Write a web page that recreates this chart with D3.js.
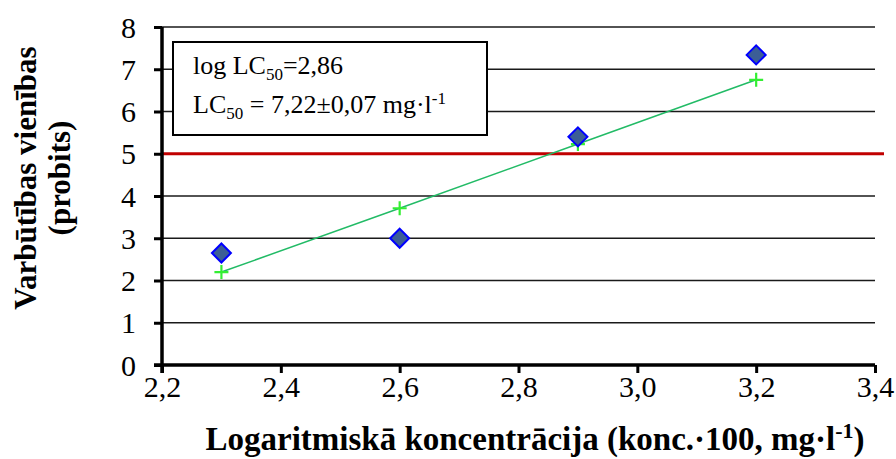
<!DOCTYPE html>
<html>
<head>
<meta charset="utf-8">
<script src="https://cdn.jsdelivr.net/npm/d3@7"></script>
<style>
  html, body { margin: 0; padding: 0; background: #fff; }
  svg { display: block; font-family: "Liberation Serif", "Times New Roman", serif; }
</style>
</head>
<body>
<svg id="chart" width="896" height="459"></svg>
<script>
// Log concentration values (x) and observed / fitted probits
const logConc = [2.3, 2.6, 2.9, 3.2];
const observedProbit = [2.65, 3.0, 5.4, 7.34];
const fittedProbit = [2.2, 3.71, 5.23, 6.75];
const probitLevel50 = 5;

const xTicks = [2.2, 2.4, 2.6, 2.8, 3.0, 3.2, 3.4];
const xTickLabels = ["2,2", "2,4", "2,6", "2,8", "3,0", "3,2", "3,4"];
const yTicks = [0, 1, 2, 3, 4, 5, 6, 7, 8];

const svg = d3.select("#chart");
const plotLeft = 162, plotRight = 875, plotTop = 27, plotBottom = 365;
const serif = "Liberation Serif, Times New Roman, serif";

const x = d3.scaleLinear().domain([2.2, 3.4]).range([plotLeft, plotRight]);
const y = d3.scaleLinear().domain([0, 8]).range([plotBottom, plotTop]);

// horizontal gridlines
svg.append("g")
  .selectAll("line")
  .data(yTicks.filter(v => v !== 0 && v !== probitLevel50))
  .join("line")
  .attr("x1", plotLeft).attr("x2", plotRight)
  .attr("y1", d => y(d)).attr("y2", d => y(d))
  .attr("stroke", "#1a1a1a").attr("stroke-width", 1.5);

// 50% response level
svg.append("line")
  .attr("x1", plotLeft).attr("x2", 884)
  .attr("y1", y(probitLevel50)).attr("y2", y(probitLevel50))
  .attr("stroke", "#c00000").attr("stroke-width", 3);

// y axis
const yAxis = svg.append("g")
  .attr("transform", `translate(${plotLeft},0)`)
  .call(d3.axisLeft(y).tickValues(yTicks).tickSize(8).tickPadding(18).tickFormat(d3.format("d")));
yAxis.select(".domain").attr("stroke", "#000").attr("stroke-width", 3.5).attr("d", `M0,${plotTop}V${plotBottom + 8}`);
yAxis.selectAll(".tick line").attr("stroke", "#000").attr("stroke-width", 3);
yAxis.selectAll(".tick text")
  .attr("font-family", serif)
  .attr("font-size", 30).attr("fill", "#000").attr("dy", "0.34em");

// x axis
const xAxis = svg.append("g")
  .attr("transform", `translate(0,${plotBottom})`)
  .call(d3.axisBottom(x).tickValues(xTicks).tickSize(8).tickPadding(3)
    .tickFormat((d, i) => xTickLabels[i]));
xAxis.select(".domain").attr("stroke", "#000").attr("stroke-width", 3.5).attr("d", `M${plotLeft - 8},0H${plotRight}`);
xAxis.selectAll(".tick line").attr("stroke", "#000").attr("stroke-width", 3);
xAxis.selectAll(".tick text")
  .attr("font-family", serif)
  .attr("font-size", 30).attr("fill", "#000");

// fitted line
svg.append("path")
  .datum(logConc.map((v, i) => [v, fittedProbit[i]]))
  .attr("fill", "none")
  .attr("stroke", "#22bb66").attr("stroke-width", 1.5)
  .attr("d", d3.line().x(d => x(d[0])).y(d => y(d[1])));

// fitted points (crosses)
svg.append("g")
  .selectAll("path")
  .data(logConc.map((v, i) => [v, fittedProbit[i]]))
  .join("path")
  .attr("transform", d => `translate(${x(d[0])},${y(d[1])})`)
  .attr("d", "M-7,0H7M0,-7V7")
  .attr("stroke", "#33ee33").attr("stroke-width", 2.2).attr("fill", "none");

// observed points (diamonds)
svg.append("g")
  .selectAll("path")
  .data(logConc.map((v, i) => [v, observedProbit[i]]))
  .join("path")
  .attr("transform", d => `translate(${x(d[0])},${y(d[1])})`)
  .attr("d", "M0,-9.5L9.5,0L0,9.5L-9.5,0Z")
  .attr("fill", "#3c5e96").attr("stroke", "#0000ff").attr("stroke-width", 2);

// result box
svg.append("rect")
  .attr("x", 173).attr("y", 42).attr("width", 314).attr("height", 93)
  .attr("fill", "#fff").attr("stroke", "#000").attr("stroke-width", 2);

const t1 = svg.append("text").attr("x", 193).attr("y", 74).attr("font-size", 26);
t1.append("tspan").text("log LC");
t1.append("tspan").attr("font-size", 17).attr("dy", 6).text("50");
t1.append("tspan").attr("dy", -6).text("=2,86");

const t2 = svg.append("text").attr("x", 193).attr("y", 113).attr("font-size", 26);
t2.append("tspan").text("LC");
t2.append("tspan").attr("font-size", 17).attr("dy", 6).text("50");
t2.append("tspan").attr("dy", -6).text(" = 7,22±0,07 mg·l");
t2.append("tspan").attr("font-size", 17).attr("dy", -9).text("-1");

// axis titles
const xt = svg.append("text")
  .attr("x", 535).attr("y", 450).attr("text-anchor", "middle")
  .attr("font-size", 33).attr("font-weight", "bold");
xt.append("tspan").text("Logaritmiskā koncentrācija (konc.·100, mg·l");
xt.append("tspan").attr("font-size", 22).attr("dy", -12).text("-1");
xt.append("tspan").attr("dy", 12).text(")");

const yt = svg.append("text")
  .attr("transform", "translate(36,178) rotate(-90)")
  .attr("text-anchor", "middle").attr("font-size", 31).attr("font-weight", "bold");
yt.append("tspan").attr("x", 0).attr("dy", 0).text("Varbūtības vienības");
yt.append("tspan").attr("x", 0).attr("dy", 34).text("(probits)");
</script>
</body>
</html>
